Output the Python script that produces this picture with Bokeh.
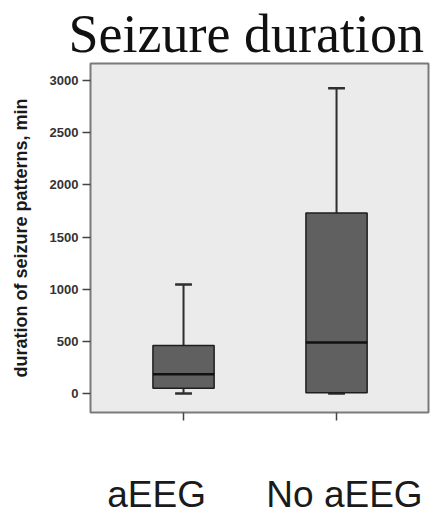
from bokeh.plotting import figure
from bokeh.models import Range1d, FixedTicker, ColumnDataSource, LinearAxis, Title
from bokeh.embed import file_html
from bokeh.resources import INLINE

# ---- data ----
categories = ["aEEG", "No aEEG"]
whisker_low = [0, 0]
q1 = [50, 8]
median = [185, 490]
q3 = [460, 1730]
whisker_high = [1045, 2925]
y_ticks = [0, 500, 1000, 1500, 2000, 2500, 3000]
title_text = "Seizure duration"
y_label = "duration of seizure patterns, min"

xpos = [i + 1 for i in range(len(categories))]
box_w = 0.4
cap_w = 0.11

src = ColumnDataSource(dict(
    x=xpos, low=whisker_low, q1=q1, med=median, q3=q3, high=whisker_high,
    left=[x - box_w / 2 for x in xpos], right=[x + box_w / 2 for x in xpos],
    cl=[x - cap_w / 2 for x in xpos], cr=[x + cap_w / 2 for x in xpos],
))

p = figure(width=443, height=519, output_backend="svg", toolbar_location=None,
           x_range=Range1d(0.392, 2.601), y_range=Range1d(-182, 3163),
           min_border_left=90, min_border_right=15, min_border_top=63,
           min_border_bottom=107)

p.title = Title(text=title_text, align="left", offset=-22, standoff=0,
                text_font="Liberation Serif", text_font_size="54px",
                text_font_style="normal", text_color="#111111")

p.background_fill_color = "#ebebeb"
p.border_fill_color = "white"
p.outline_line_color = "#7a7a7a"
p.outline_line_width = 2
p.xgrid.visible = False
p.ygrid.visible = False

# whiskers
wcol = "#2e2e2e"
p.segment(x0="x", y0="q3", x1="x", y1="high", source=src, line_color=wcol, line_width=2)
p.segment(x0="x", y0="q1", x1="x", y1="low", source=src, line_color=wcol, line_width=2)
p.segment(x0="cl", y0="high", x1="cr", y1="high", source=src, line_color=wcol, line_width=2.5)
p.segment(x0="cl", y0="low", x1="cr", y1="low", source=src, line_color=wcol, line_width=2.5)
# boxes
p.vbar(x="x", width=box_w, top="q3", bottom="q1", source=src,
       fill_color="#606060", line_color="#1e1e1e", line_width=1.5)
# medians
p.segment(x0="left", y0="med", x1="right", y1="med", source=src, line_color="#111111", line_width=2.5)

# y axis
ya = p.yaxis[0]
ya.ticker = FixedTicker(ticks=y_ticks)
ya.axis_label = y_label
ya.axis_label_text_font = "Liberation Sans"
ya.axis_label_text_font_style = "bold"
ya.axis_label_text_font_size = "18px"
ya.axis_label_text_color = "#1a1a1a"
ya.axis_label_standoff = 16
ya.major_label_text_font = "Liberation Sans"
ya.major_label_text_font_style = "bold"
ya.major_label_text_font_size = "13px"
ya.major_label_text_color = "#333333"
ya.major_label_standoff = 4
ya.major_tick_out = 8
ya.major_tick_in = 0
ya.major_tick_line_color = "#444444"
ya.major_tick_line_width = 1.5
ya.minor_tick_line_color = None
ya.axis_line_color = None

# x axis: ticks only
xa = p.xaxis[0]
xa.ticker = FixedTicker(ticks=xpos)
xa.major_label_overrides = {x: "" for x in xpos}
xa.major_label_text_font_size = "1px"
xa.major_label_standoff = 0
xa.major_tick_out = 8
xa.major_tick_in = 0
xa.major_tick_line_color = "#444444"
xa.major_tick_line_width = 1.5
xa.minor_tick_line_color = None
xa.axis_line_color = None

# second axis below carrying the category names (shifted as in the reference)
name_shift = [-0.176, 0.052]
name_pos = [x + s for x, s in zip(xpos, name_shift)]
xa2 = LinearAxis(ticker=FixedTicker(ticks=name_pos),
                 major_label_overrides={v: n for v, n in zip(name_pos, categories)},
                 major_label_text_font="Liberation Sans",
                 major_label_text_font_size="37px",
                 major_label_text_color="#1a1a1a",
                 major_label_standoff=53,
                 major_tick_out=0, major_tick_in=0,
                 major_tick_line_color=None, minor_tick_line_color=None,
                 axis_line_color=None)
p.add_layout(xa2, "below")

open("out.html", "w").write(file_html(p, INLINE))
